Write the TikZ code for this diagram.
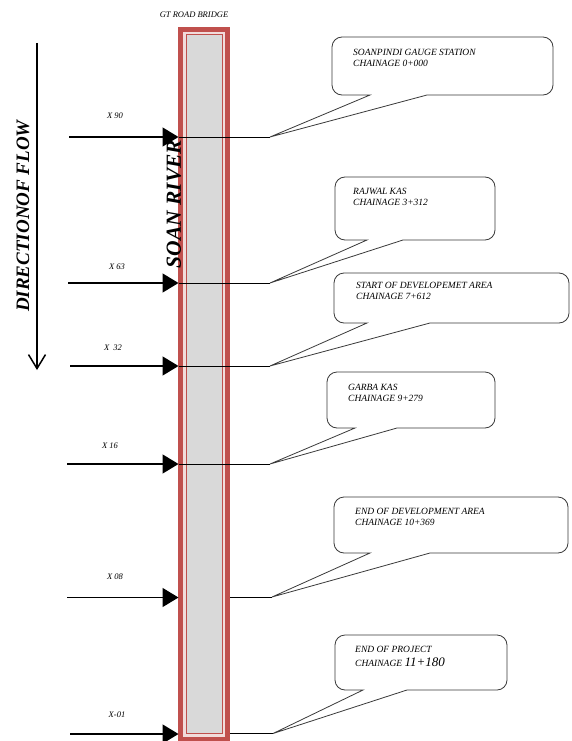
\documentclass[tikz,border=0pt]{standalone}
\usepackage{fontspec}
\setmainfont{Liberation Serif}
\usetikzlibrary{arrows.meta}
\definecolor{rivred}{HTML}{C0504D}
\definecolor{rivpink}{HTML}{F2DCDB}
\definecolor{rivgray}{HTML}{D9D9D9}
\definecolor{callgray}{HTML}{3A3A3A}
\begin{document}
\begin{tikzpicture}[x=1pt,y=-1pt,
  flowarr/.style={line width=1.5pt,-{Triangle[length=16pt,width=19pt]}},
  thinline/.style={line width=0.6pt,black},
  callbox/.style={draw=callgray,fill=white,line width=0.8pt},
  calltext/.style={anchor=north west,inner sep=0pt,align=left,font=\itshape\fontsize{9.5}{11}\selectfont},
  xlabel/.style={inner sep=0pt,font=\itshape\fontsize{8.5}{10}\selectfont},
  bigtitle/.style={inner sep=0pt,rotate=90,font=\bfseries\itshape\fontsize{19}{20}\selectfont}]
\useasboundingbox (0,0) rectangle (571,741);
\fill[white] (0,0) rectangle (571,741);

% river
\fill[rivred] (178.3,27.3) rectangle (230,741);
\fill[rivpink] (183.3,31.7) rectangle (225,736.5);
\filldraw[draw=rivred,fill=rivgray,line width=1.1pt] (186.5,34.5) rectangle (222.3,733.5);

\node[inner sep=0pt,font=\itshape\fontsize{8.5}{10}\selectfont] (bridge) at (194,15) {GT ROAD BRIDGE};
\node[bigtitle,font=\bfseries\itshape\fontsize{21.5}{22}\selectfont] (river) at (174,204) {SOAN RIVER};

% direction of flow
\coordinate (dtop) at (37,43);
\coordinate (dbot) at (37,370);
\draw[line width=1.5pt,-{Straight Barb[length=14pt,width=17pt,line width=1.5pt]}] (dtop) -- (dbot);
\node[bigtitle] (dir) at (23,216) {DIRECTIONOF FLOW};

% tips of callouts
\coordinate (t1) at (270,137);
\coordinate (t2) at (270,283);
\coordinate (t3) at (270,366);
\coordinate (t4) at (270,464);
\coordinate (t5) at (272,597);
\coordinate (t6) at (273,733.5);

% river left edge points and right edge points
\coordinate (e1) at (178.5,137);
\coordinate (e2) at (178.5,283);
\coordinate (e3) at (178.5,366);
\coordinate (e4) at (178.5,464);
\coordinate (e5) at (178.5,597.5);
\coordinate (e6) at (178.5,734);
\coordinate (r5) at (230,597);
\coordinate (r6) at (230,733.5);

% thin lines
\draw[thinline] (e1) -- (t1);
\draw[thinline] (e2) -- (t2);
\draw[thinline] (e3) -- (t3);
\draw[thinline] (e4) -- (t4);
\draw[thinline] (r5) -- (t5);
\draw[thinline] (r6) -- (t6);

% cross-section arrows
\coordinate (s1) at (69,137);
\coordinate (s2) at (68,283);
\coordinate (s3) at (70,366);
\coordinate (s4) at (67,464);
\coordinate (s5) at (67,597.5);
\coordinate (s6) at (70,734);
\draw[flowarr] (s1) -- (e1);
\draw[flowarr] (s2) -- (e2);
\draw[flowarr] (s3) -- (e3);
\draw[flowarr] (s4) -- (e4);
\draw[flowarr] (s5) -- (e5);
\draw[flowarr] (s6) -- (e6);
\node[xlabel] (x1) at (115,116) {X 90};
\node[xlabel] (x2) at (117,267) {X 63};
\node[xlabel] (x3) at (113,348) {X \ 32};
\node[xlabel] (x4) at (110,446) {X 16};
\node[xlabel] (x5) at (115,577) {X 08};
\node[xlabel] (x6) at (117,715) {X-01};

% callouts
\draw[callbox] (t1) -- (370,95) [rounded corners=10pt] -- (332,95) -- (332,37) -- (553,37) -- (553,95) [sharp corners] -- (427,95) -- cycle;
\draw[callbox] (t2) -- (367,240) [rounded corners=10pt] -- (335,240) -- (335,177) -- (495,177) -- (495,240) [sharp corners] -- (403,240) -- cycle;
\draw[callbox] (t3) -- (367,323) [rounded corners=10pt] -- (334,323) -- (334,273) -- (569,273) -- (569,323) [sharp corners] -- (430,323) -- cycle;
\draw[callbox] (t4) -- (355,428) [rounded corners=10pt] -- (327,428) -- (327,372) -- (495,372) -- (495,428) [sharp corners] -- (397,428) -- cycle;
\draw[callbox] (t5) -- (370,553) [rounded corners=10pt] -- (334,553) -- (334,497) -- (568,497) -- (568,553) [sharp corners] -- (430,553) -- cycle;
\draw[callbox] (t6) -- (363,690) [rounded corners=10pt] -- (335,690) -- (335,635) -- (507,635) -- (507,690) [sharp corners] -- (407,690) -- cycle;

\node[calltext] (c1) at (353,49.5) {SOANPINDI GAUGE STATION\\CHAINAGE 0+000};
\node[calltext] (c2) at (353,188.5) {RAJWAL KAS\\CHAINAGE 3+312};
\node[calltext] (c3) at (356,282.5) {START OF DEVELOPEMET AREA\\CHAINAGE 7+612};
\node[calltext] (c4) at (348,384) {GARBA KAS\\CHAINAGE 9+279};
\node[calltext] (c5) at (355,508.5) {END OF DEVELOPMENT AREA\\CHAINAGE 10+369};
\node[calltext] (c6) at (355,646) {END OF PROJECT\\[3pt]CHAINAGE {\fontsize{13}{13}\selectfont 11+180}};
\end{tikzpicture}
\end{document}
